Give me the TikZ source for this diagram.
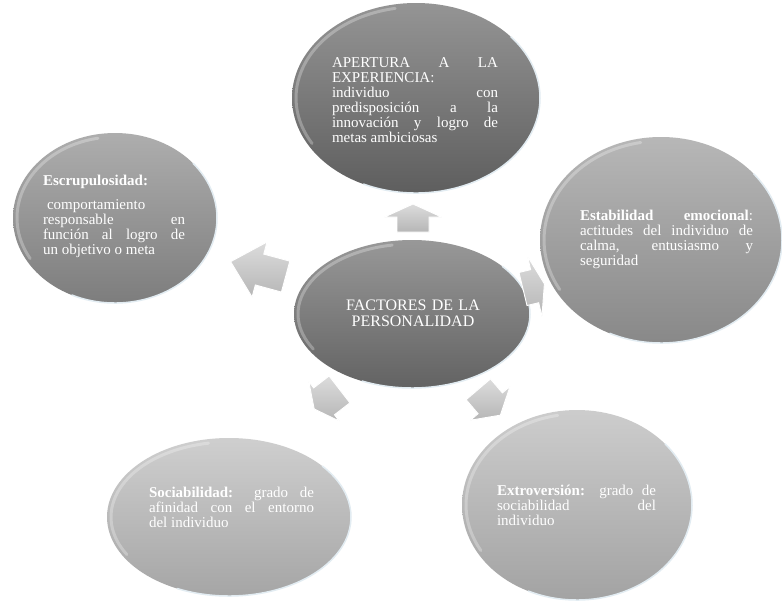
\documentclass[tikz,border=0pt]{standalone}
\usepackage{fontspec}
\setmainfont{Liberation Serif}
\usetikzlibrary{shapes.geometric}

\definecolor{topfill}{HTML}{6B6B6B}
\definecolor{centfill}{HTML}{707070}
\definecolor{leftfill}{HTML}{8E8E8E}
\definecolor{rightfill}{HTML}{9B9B9B}
\definecolor{blfill}{HTML}{BCBCBC}
\definecolor{brfill}{HTML}{B9B9B9}
\definecolor{rimblue}{HTML}{E2ECF2}
\definecolor{arrowlight}{HTML}{DCDCDC}
\definecolor{arrowdark}{HTML}{B6B6B6}

% glossy ellipse: name, centre x, centre y (downwards), half width, half height, colour
\newcommand\bubble[6]{%
  \pgfmathsetmacro\bubrx{#4}\pgfmathsetmacro\bubry{#5}%
  \pgfmathsetmacro\bubirx{#4-4}\pgfmathsetmacro\bubiry{#5-4}%
  \node[bubble, minimum width=2*#4, minimum height=2*#5,
        top color=#6!72!white, middle color=#6, bottom color=#6!88!black] (#1) at (#2,-#3) {};
  \draw[innerglow] ([shift={(100:\bubirx pt and \bubiry pt)}]#1.center)
    arc[start angle=100, end angle=210, x radius=\bubirx pt, y radius=\bubiry pt];
  \draw[outerrim] ([shift={(-115:\bubrx pt and \bubry pt)}]#1.center)
    arc[start angle=-115, end angle=40, x radius=\bubrx pt, y radius=\bubry pt];
}

% block arrow: base x, base y (downwards), direction, length, head length, head half width, shaft half width
\newcommand\blockarrow[7]{%
  \draw[blockarr, shift={(#1,-#2)}, rotate=#3]
    (0,-#7) -- (#4-#5,-#7) -- (#4-#5,-#6) -- (#4,0) -- (#4-#5,#6) -- (#4-#5,#7) -- (0,#7) -- cycle;
}

\begin{document}
\begin{tikzpicture}[x=1pt, y=1pt,
  bubble/.style={ellipse, inner sep=0pt, draw=none},
  innerglow/.style={white, opacity=0.28, line width=3pt, line cap=round},
  outerrim/.style={rimblue, line width=1.5pt, line cap=round},
  blockarr/.style={top color=arrowlight, bottom color=arrowdark, draw=white, line width=0.9pt, line join=miter},
  txt/.style={text=white, font=\fontsize{15pt}{15pt}\selectfont, inner sep=0pt, align=justify},
  centretxt/.style={text=white, font=\fontsize{16pt}{16pt}\selectfont, inner sep=0pt, align=center}]

\useasboundingbox (0,0) rectangle (782,-600);
\fill[white] (0,0) rectangle (782,-600);

% the five factors and the central topic
\bubble{apertura}{416}{98}{124}{95}{topfill}
\bubble{escrup}{115}{218}{102}{85}{leftfill}
\bubble{estab}{661}{240}{121}{103}{rightfill}
\bubble{socia}{229}{517}{122}{79}{blfill}
\bubble{extro}{577}{505}{115}{95}{brfill}
\bubble{factores}{412}{314}{118}{74}{centfill}

% arrows pointing out from the centre
\blockarrow{413}{232}{90}{28}{13}{28.5}{16}
\blockarrow{285.6}{276.6}{164.8}{57}{30}{28.5}{16}
\blockarrow{523}{289}{13.6}{22}{10}{31}{17}
\blockarrow{339.5}{389.4}{217.7}{32}{12.5}{25}{17}
\blockarrow{478.3}{389.3}{-49.5}{34}{15.6}{26}{16}

% texts
\node[txt, text width=166pt] (t-apertura) at (415,-100)
  {APERTURA A LA\linebreak EXPERIENCIA:\linebreak individuo con\linebreak predisposición a la\linebreak innovación y logro de\linebreak metas ambiciosas};
\node[txt, text width=142pt] (t-escrup) at (114,-216)
  {\textbf{Escrupulosidad:}\par\vspace{9pt}\hspace*{4pt}comportamiento\linebreak responsable en\linebreak función al logro de\linebreak un objetivo o meta};
\node[txt, text width=173pt] (t-estab) at (666.5,-239)
  {\textbf{Estabilidad emocional}:\linebreak actitudes del individuo de\linebreak calma, entusiasmo y\linebreak seguridad};
\node[centretxt, text width=150pt] (t-factores) at (413,-313)
  {FACTORES DE LA\\PERSONALIDAD};
\node[txt, text width=165pt] (t-socia) at (231.5,-507)
  {\textbf{Sociabilidad:} grado de\linebreak afinidad con el entorno\linebreak del individuo};
\node[txt, text width=159pt] (t-extro) at (576.5,-505)
  {\textbf{Extroversión:} grado de\linebreak sociabilidad del\linebreak individuo};
\end{tikzpicture}
\end{document}
